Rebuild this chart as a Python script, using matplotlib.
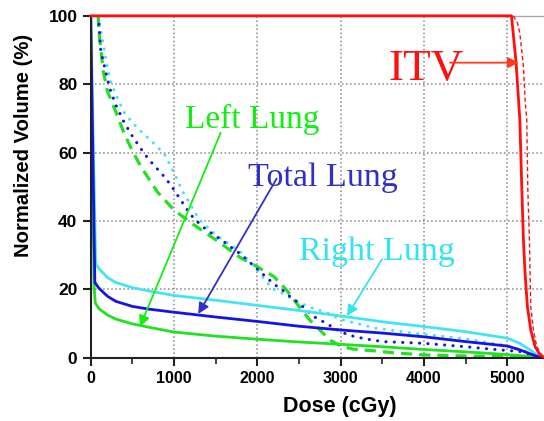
import numpy as np
import matplotlib.pyplot as plt
from matplotlib.ticker import MultipleLocator

# dose-volume histogram data (dose in cGy, volume in %)
right_x = [0, 60, 100, 200, 300, 500, 700, 1000, 1500, 2000, 2500, 3000, 3500, 4000, 4500, 5000, 5150, 5270, 5390, 5440]
right_y = [100, 27.5, 26, 23.5, 22, 20.5, 19.5, 18.2, 16.8, 15.3, 13.8, 12.2, 10.5, 9.1, 7.6, 5.7, 4.2, 2.3, 0.3, 0]

total_x = [0, 50, 100, 200, 300, 500, 700, 1000, 1500, 2000, 2500, 3000, 3500, 4000, 4500, 5000, 5150, 5310, 5400]
total_y = [100, 22, 20.3, 18, 16.5, 15, 14.2, 13.3, 11.9, 10.6, 9.2, 8.1, 7.2, 6.1, 4.7, 3.4, 2.3, 0.8, 0]

left_x = [0, 40, 55, 100, 200, 300, 500, 700, 1000, 1500, 2000, 2500, 3000, 3500, 4000, 4500, 5000, 5350, 5400]
left_y = [100, 21, 16, 14.3, 12.5, 11.3, 9.9, 8.9, 7.5, 6.3, 5.4, 4.6, 3.9, 3.2, 2.4, 1.7, 0.9, 0.2, 0]

# second plan (dashed / dotted)
left2_x = [90, 100, 150, 200, 300, 400, 500, 600, 800, 1000, 1200, 1500, 1800, 2000, 2200, 2350, 2500, 2630, 2750, 2870, 3000, 3150, 3400, 3600, 4000, 4500, 5000, 5300]
left2_y = [100, 95, 84, 78, 72, 65.7, 60.5, 56, 48.5, 43.2, 39.5, 34.5, 29.2, 26.6, 23.7, 19.8, 15, 11, 8.1, 5.2, 3.4, 2.5, 2, 1.5, 0.8, 0.5, 0.3, 0]

total2_x = [90, 100, 120, 200, 240, 300, 400, 500, 600, 700, 900, 1000, 1100, 1200, 1300, 1400, 1500, 1600, 1700, 1800, 1900, 2000, 2100, 2200, 2300, 2400, 2500, 2600, 2700, 2800, 2900, 3000, 3100, 3200, 3300, 3500, 4000, 4500, 4800, 5150, 5300, 5400]
total2_y = [100, 97, 90, 81.5, 78, 74, 68.9, 64.8, 61.2, 57.9, 52.5, 49.1, 45.4, 41.8, 39.3, 37.2, 35.6, 33.9, 32, 30.3, 28.1, 25.9, 23.7, 21.5, 19.8, 17.7, 15.9, 13.7, 11.7, 10.4, 9.0, 7.6, 6.6, 6, 5.5, 4.7, 4.2, 3.2, 2.5, 1.8, 0.8, 0]

right2_x = [90, 100, 200, 230, 300, 400, 500, 600, 700, 800, 900, 1000, 1100, 1300, 1500, 1700, 1800, 2000, 2100, 2200, 2320, 2420, 2520, 2620, 2730, 2830, 2930, 3030, 3230, 3430, 3530, 3830, 4100, 4500, 5000, 5300, 5420]
right2_y = [100, 98.5, 85, 81.5, 77, 71.8, 68.8, 66.3, 64, 61.7, 59, 54, 48.8, 40.5, 35.9, 32.7, 30.8, 25.7, 22.4, 20, 18.6, 17.2, 16, 14.8, 14, 13.2, 12, 11, 9.8, 8.6, 8.3, 7.3, 6.6, 5.5, 3.5, 1.2, 0]

itv_x = [0, 5050, 5105, 5150, 5173, 5193, 5213, 5241, 5281, 5333, 5393, 5430]
itv_y = [100, 100, 86.3, 69.6, 50, 34.4, 24.7, 14.9, 8.1, 3.2, 0.8, 0.3]

itv2_x = [5073, 5120, 5150, 5193, 5213, 5233, 5245, 5265, 5273, 5281, 5313, 5353, 5413]
itv2_y = [100, 98, 94.9, 85.2, 75.4, 69.6, 50, 34.4, 24.7, 14.9, 8.1, 3.2, 0.8]

GREEN = '#22e022'
BLUE = '#1414e6'
CYAN = '#44e4f4'
RED = '#ff1010'

fig = plt.figure(figsize=(5.44, 4.21), dpi=100)
ax = fig.add_axes([0.1667, 0.1504, 0.8333, 0.812])

ax.grid(True, which='major', color='#888888', linestyle=':', linewidth=1.1)
ax.set_axisbelow(True)

ax.plot(left2_x, left2_y, color=GREEN, lw=2.3, dashes=(3.5, 2.2))
ax.plot(right2_x, right2_y, color=CYAN, lw=2.2, dashes=(0.05, 2.7), dash_capstyle='round')
ax.plot(total2_x, total2_y, color=BLUE, lw=2.2, dashes=(0.05, 2.7), dash_capstyle='round')
ax.plot(left_x, left_y, color=GREEN, lw=2.0)
ax.plot(right_x, right_y, color=CYAN, lw=2.0)
ax.plot(total_x, total_y, color=BLUE, lw=2.0)
ax.plot(itv2_x, itv2_y, color=RED, lw=1.0, dashes=(3, 2), clip_on=False, zorder=3)
ax.plot(itv_x, itv_y, color=RED, lw=2.0, clip_on=False, zorder=3)

ax.set_xlim(0, 5440)
ax.set_ylim(0, 100)
ax.xaxis.set_major_locator(MultipleLocator(1000))
ax.xaxis.set_minor_locator(MultipleLocator(500))
ax.yaxis.set_major_locator(MultipleLocator(20))

for s in ['left', 'bottom']:
    ax.spines[s].set_color('#222222')
    ax.spines[s].set_linewidth(1.5)
ax.spines['top'].set_color('#aaaaaa')
ax.spines['top'].set_linewidth(1.0)
ax.spines['right'].set_visible(False)

ax.tick_params(which='major', direction='out', length=6, width=1.5, color='#222222', pad=3.5)
ax.tick_params(which='minor', direction='out', length=4, width=1.2, color='#222222')
ax.tick_params(axis='y', which='minor', left=False)
for lab in ax.get_xticklabels():
    lab.set_fontfamily('Liberation Sans')
    lab.set_fontweight('bold')
    lab.set_fontsize(11.5)
for lab in ax.get_yticklabels():
    lab.set_fontfamily('Liberation Sans')
    lab.set_fontweight('bold')
    lab.set_fontsize(12.5)

ax.set_xlabel('Dose (cGy)', family='Liberation Sans', fontweight='bold', fontsize=15.5)
ax.set_ylabel('Normalized Volume (%)', family='Liberation Sans', fontweight='bold', fontsize=14.6)
ax.xaxis.set_label_coords(0.55, -0.112)
ax.yaxis.set_label_coords(-0.127, 0.622)

serif = 'Liberation Serif'
ax.text(3576, 81.3, 'ITV', color=RED, family=serif, fontsize=32.5, ha='left', va='baseline')
ax.annotate('', xy=(5137, 86.3), xytext=(4312, 86.3),
            arrowprops=dict(arrowstyle='-|>', color='#ff3a1a', lw=1.3, mutation_scale=16, shrinkA=0, shrinkB=0))

ax.text(1132, 67.3, 'Left Lung', color='#11ee11', family=serif, fontsize=24, ha='left', va='baseline')
ax.annotate('', xy=(592, 9.1), xytext=(1560, 65.8),
            arrowprops=dict(arrowstyle='-|>', color='#11ee11', lw=1.3, mutation_scale=16, shrinkA=0, shrinkB=0))

ax.text(1891, 50.2, 'Total Lung', color='#3030c8', family=serif, fontsize=24.5, ha='left', va='baseline')
ax.annotate('', xy=(1291, 12.8), xytext=(2232, 52.4),
            arrowprops=dict(arrowstyle='-|>', color='#3030c8', lw=1.3, mutation_scale=16, shrinkA=0, shrinkB=0))

ax.text(2496, 28.6, 'Right Lung', color='#33e4f0', family=serif, fontsize=24.5, ha='left', va='baseline')
ax.annotate('', xy=(3076, 12.2), xytext=(3496, 28.8),
            arrowprops=dict(arrowstyle='-|>', color='#33e4f0', lw=1.3, mutation_scale=16, shrinkA=0, shrinkB=0))

fig.savefig('out.png', dpi=100)
